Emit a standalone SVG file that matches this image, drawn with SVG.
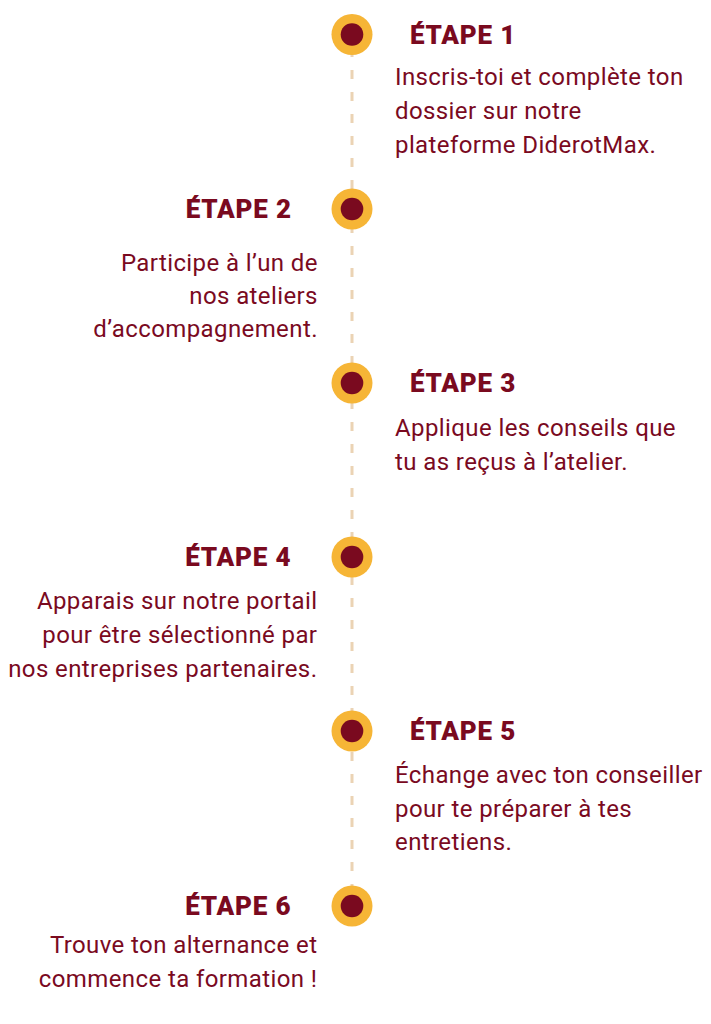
<svg xmlns="http://www.w3.org/2000/svg" width="711" height="1024" viewBox="0 0 711 1024">
<style>
.h{font-family:Roboto,"Liberation Sans",sans-serif;font-weight:900;font-size:26px;letter-spacing:0.8px;fill:#7A0A1F}
.b{font-family:Roboto,"Liberation Sans",sans-serif;font-weight:400;font-size:24px;letter-spacing:0.4px;fill:#7A0A1F}
.r{text-anchor:end}
.o{fill:#F6B536}
.i{fill:#7A0A1F}
.ln{stroke:#EBD3B4;stroke-width:3;stroke-dasharray:9 13;fill:none}
</style>
<rect width="711" height="1024" fill="#fff"/>
<g id="connectors">
<line class="ln" x1="352" y1="48" x2="352" y2="896"/>
</g>
<g id="step1">
<circle class="o" cx="352" cy="34.5" r="20.5"/><circle class="i" cx="352" cy="34.5" r="11.3"/>
<text class="h" x="410" y="44.3">ÉTAPE 1</text>
<text class="b" x="395" y="85">Inscris-toi et complète ton</text>
<text class="b" x="395" y="119">dossier sur notre</text>
<text class="b" x="395" y="153">plateforme DiderotMax.</text>
</g>
<g id="step2">
<circle class="o" cx="352" cy="209" r="20.5"/><circle class="i" cx="352" cy="209" r="11.3"/>
<text class="h r" x="291.8" y="218.3">ÉTAPE 2</text>
<text class="b r" x="317.9" y="270.7">Participe à l’un de</text>
<text class="b r" x="317.9" y="304">nos ateliers</text>
<text class="b r" x="317.9" y="337">d’accompagnement.</text>
</g>
<g id="step3">
<circle class="o" cx="352" cy="383" r="20.5"/><circle class="i" cx="352" cy="383" r="11.3"/>
<text class="h" x="410" y="392.3">ÉTAPE 3</text>
<text class="b" x="395" y="436">Applique les conseils que</text>
<text class="b" x="395" y="470">tu as reçus à l’atelier.</text>
</g>
<g id="step4">
<circle class="o" cx="352" cy="557" r="20.5"/><circle class="i" cx="352" cy="557" r="11.3"/>
<text class="h r" x="291.3" y="566">ÉTAPE 4</text>
<text class="b r" x="317.4" y="609">Apparais sur notre portail</text>
<text class="b r" x="317.4" y="643">pour être sélectionné par</text>
<text class="b r" x="317.4" y="677">nos entreprises partenaires.</text>
</g>
<g id="step5">
<circle class="o" cx="352" cy="731" r="20.5"/><circle class="i" cx="352" cy="731" r="11.3"/>
<text class="h" x="410" y="740">ÉTAPE 5</text>
<text class="b" x="395" y="783.3">Échange avec ton conseiller</text>
<text class="b" x="395" y="817">pour te préparer à tes</text>
<text class="b" x="395" y="850">entretiens.</text>
</g>
<g id="step6">
<circle class="o" cx="352" cy="906" r="20.5"/><circle class="i" cx="352" cy="906" r="11.3"/>
<text class="h r" x="291.3" y="915">ÉTAPE 6</text>
<text class="b r" x="317.4" y="953.3">Trouve ton alternance et</text>
<text class="b r" x="317.4" y="987.3">commence ta formation !</text>
</g>
</svg>
